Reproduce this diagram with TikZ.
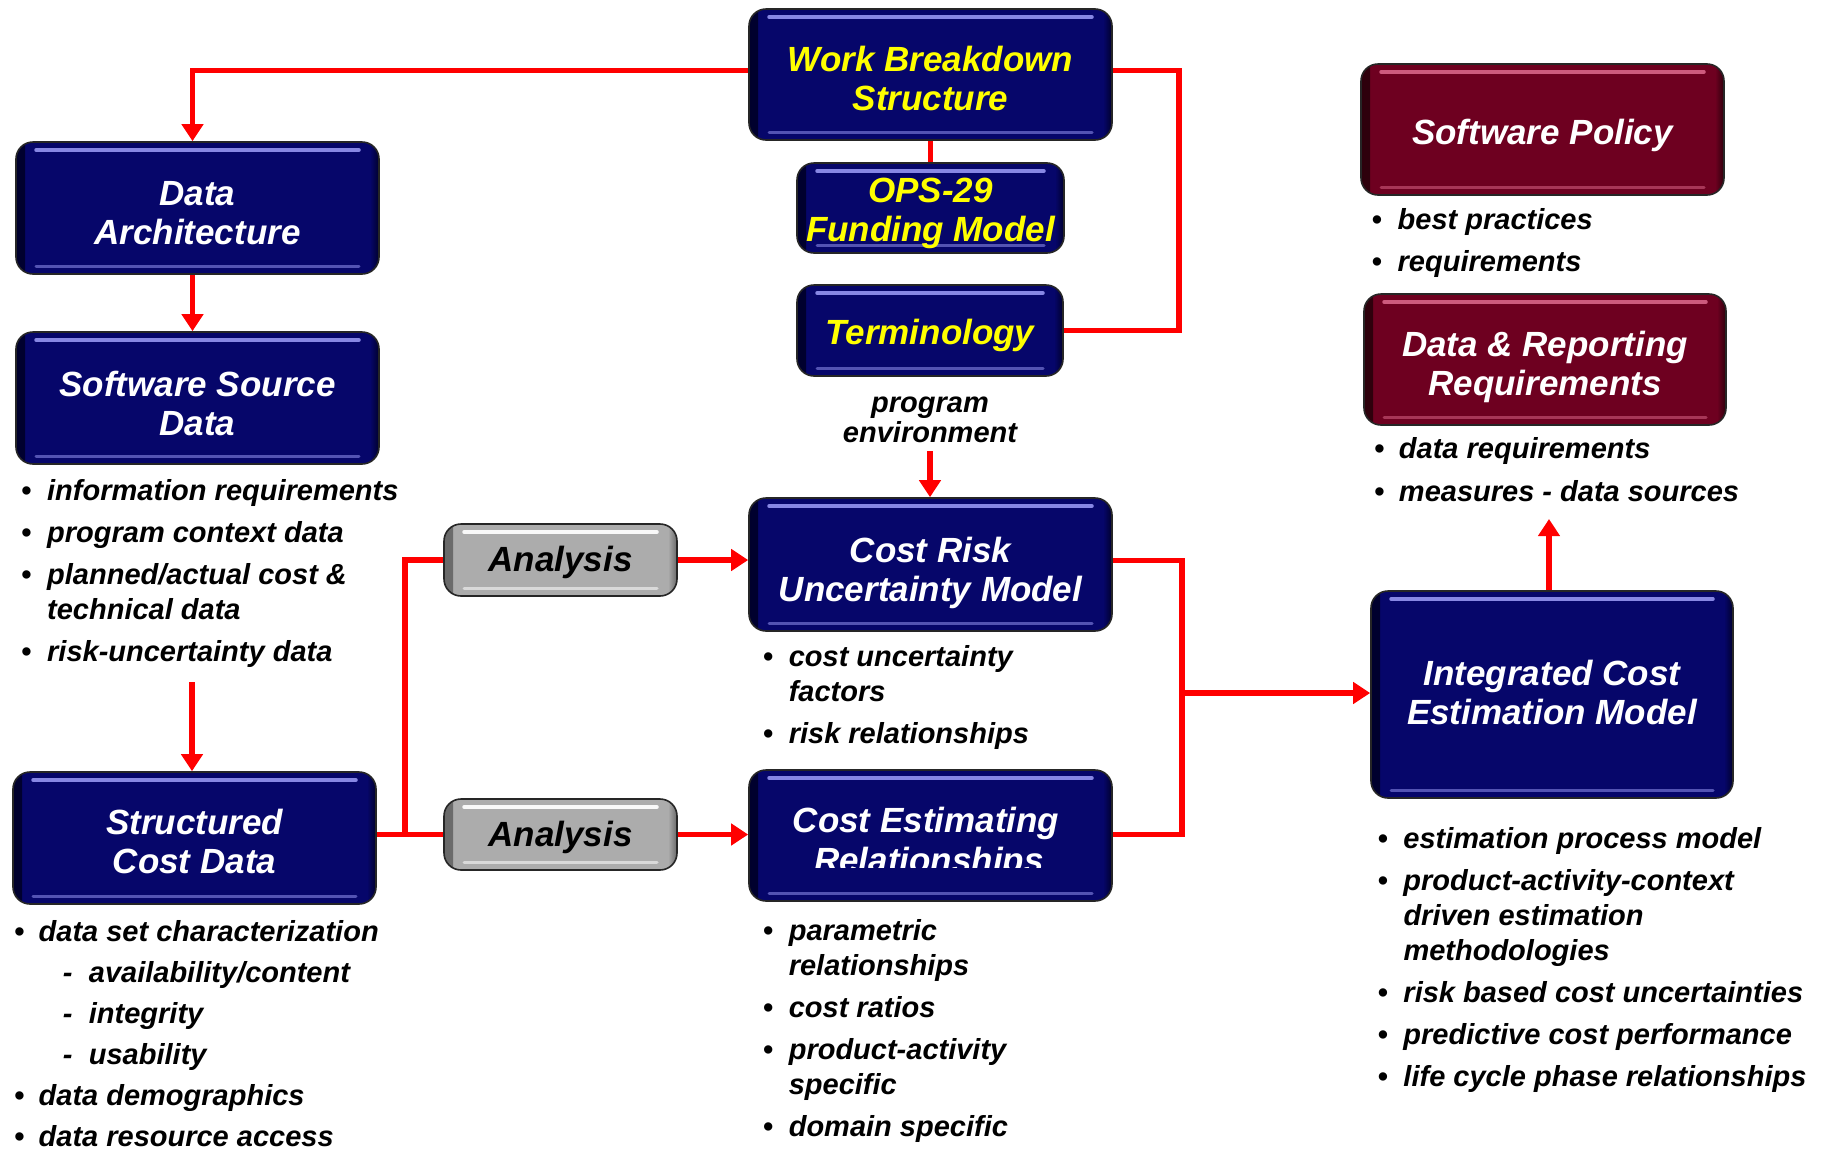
\documentclass[tikz,border=0pt]{standalone}
\usepackage{fontspec}
\setmainfont{Liberation Sans}
\usetikzlibrary{arrows.meta}
\definecolor{navyc}{RGB}{6,6,106}
\definecolor{navydark}{RGB}{0,0,45}
\definecolor{navyhl}{RGB}{135,135,228}
\definecolor{wine}{RGB}{110,0,32}
\definecolor{winedark}{RGB}{45,0,12}
\definecolor{winehl}{RGB}{205,90,125}
\definecolor{grayc}{RGB}{172,172,172}
\definecolor{graydark}{RGB}{105,105,105}
\definecolor{grayhl}{RGB}{248,248,248}
\definecolor{linered}{RGB}{255,0,0}
\definecolor{ylw}{RGB}{255,255,0}
\newcommand{\boxfont}{\fontsize{35}{39}\selectfont\bfseries\itshape}
\newcommand{\listfont}{\fontsize{29}{35}\selectfont\bfseries\itshape}
\newcommand{\bul}[1][26pt]{\makebox[#1][l]{•}}
\newcommand{\cont}[1][26pt]{\hspace*{#1}}
% lower a line of box text without changing the node's size
\newcommand{\dn}[2]{\raisebox{-#1}[\height][\depth]{#2}}
\tikzset{
  glossy/.style n args={3}{
    rounded corners=17pt, draw=black!85, line width=1.6pt, fill=#1,
    inner sep=0pt, align=center, font=\boxfont,
    path picture={
      \shade[sharp corners, left color=#2, right color=#1]
        (path picture bounding box.north west) rectangle ([xshift=9pt]path picture bounding box.south west);
      \shade[sharp corners, left color=#1, right color=#2]
        ([xshift=-9pt]path picture bounding box.north east) rectangle (path picture bounding box.south east);
      \draw[#3, line width=3.5pt, line cap=round]
        ([xshift=20pt,yshift=-8pt]path picture bounding box.north west) -- ([xshift=-20pt,yshift=-8pt]path picture bounding box.north east);
      \draw[#3, line width=3pt, line cap=round, opacity=0.6]
        ([xshift=20pt,yshift=8pt]path picture bounding box.south west) -- ([xshift=-20pt,yshift=8pt]path picture bounding box.south east);
    }},
  navybox/.style={glossy={navyc}{navydark}{navyhl}, text=white},
  ylwbox/.style={glossy={navyc}{navydark}{navyhl}, text=ylw},
  winebox/.style={glossy={wine}{winedark}{winehl}, text=white},
  graybox/.style={glossy={grayc}{graydark}{grayhl}, text=black},
  boxtext/.style={font=\boxfont, text=white, inner sep=0pt, anchor=base},
  listnode/.style={font=\listfont, inner sep=0pt, anchor=base west},
  conn/.style={draw=linered, line width=5.5pt},
  arr/.style={conn, -{Triangle[width=21pt,length=17pt]}}
}
\begin{document}
\begin{tikzpicture}[x=1pt, y=-1pt]
\fill[white] (0,0) rectangle (1829,1149);
\useasboundingbox (0,0) rectangle (1829,1149);

% boxes
\node[ylwbox, minimum width=363pt, minimum height=131pt] (wbs) at (930.5,74.5)
  {\dn{3.5pt}{Work Breakdown}\\\dn{3.5pt}{Structure}};
\node[ylwbox, minimum width=267pt, minimum height=90pt] (ops) at (930.5,208)
  {\dn{5pt}{OPS-29}\\\dn{5pt}{Funding Model}};
\node[ylwbox, minimum width=266pt, minimum height=91pt] (term) at (930,330.5)
  {\dn{5pt}{Terminology}};
\node[navybox, minimum width=363pt, minimum height=132pt] (darch) at (197.5,208)
  {\dn{5pt}{Data}\\\dn{5pt}{Architecture}};
\node[navybox, minimum width=363pt, minimum height=132pt] (ssd) at (197.5,398)
  {\dn{5pt}{Software Source}\\\dn{5pt}{Data}};
\node[navybox, minimum width=363pt, minimum height=132pt] (scd) at (194.5,838)
  {\dn{3.5pt}{Structured}\\\dn{3.5pt}{Cost Data}};
\node[graybox, minimum width=233pt, minimum height=72pt] (an1) at (560.5,560)
  {\dn{2.5pt}{Analysis}};
\node[graybox, minimum width=233pt, minimum height=71pt] (an2) at (560.5,834.5)
  {\dn{2.5pt}{Analysis}};
\node[navybox, minimum width=363pt, minimum height=133pt] (crum) at (930.5,564.5)
  {\dn{8pt}{Cost Risk}\\\dn{8pt}{Uncertainty Model}};
\node[navybox, minimum width=363pt, minimum height=131pt] (cer) at (930.5,835.5) {};
\node[boxtext] (certop) at (926,832) {Cost Estimating};
\begin{scope}
  \clip (749,760) rectangle (1112,867);
  \node[boxtext] (certxt) at (929,872) {Relationships};
\end{scope}
\node[navybox, minimum width=362pt, minimum height=207pt] (icem) at (1552,694.5)
  {\dn{-2pt}{Integrated Cost}\\\dn{-2pt}{Estimation Model}};
\node[winebox, minimum width=363pt, minimum height=131pt] (sp) at (1542.5,129.5)
  {\dn{6pt}{Software Policy}};
\node[winebox, minimum width=362pt, minimum height=131pt] (drr) at (1545,359.5)
  {\dn{7pt}{Data \& Reporting}\\\dn{7pt}{Requirements}};

% lists
\node[listnode] (ssdl) at (21,500) {\begin{tabular}[t]{@{}l@{}}
\bul information requirements\\[7pt]
\bul program context data\\[7pt]
\bul planned/actual cost \&\\
\cont technical data\\[7pt]
\bul risk-uncertainty data
\end{tabular}};
\node[listnode] (scdl) at (14,941) {\begin{tabular}[t]{@{}l@{}}
\bul[24.5pt]data set characterization\\[6pt]
\hspace*{48.7pt}\makebox[26pt][l]{-}availability/content\\[6pt]
\hspace*{48.7pt}\makebox[26pt][l]{-}integrity\\[6pt]
\hspace*{48.7pt}\makebox[26pt][l]{-}usability\\[6pt]
\bul[24.5pt]data demographics\\[6pt]
\bul[24.5pt]data resource access
\end{tabular}};
\node[listnode] (crl) at (762.6,666) {\begin{tabular}[t]{@{}l@{}}
\bul cost uncertainty\\
\cont factors\\[7pt]
\bul risk relationships
\end{tabular}};
\node[listnode] (cerl) at (762.6,940) {\begin{tabular}[t]{@{}l@{}}
\bul parametric\\
\cont relationships\\[7pt]
\bul cost ratios\\[7pt]
\bul product-activity\\
\cont specific\\[7pt]
\bul domain specific
\end{tabular}};
\node[listnode] (iceml) at (1377.3,848) {\begin{tabular}[t]{@{}l@{}}
\bul estimation process model\\[7pt]
\bul product-activity-context\\
\cont driven estimation\\
\cont methodologies\\[7pt]
\bul risk based cost uncertainties\\[7pt]
\bul predictive cost performance\\[7pt]
\bul life cycle phase relationships
\end{tabular}};
\node[listnode] (spl) at (1371.5,229) {\begin{tabular}[t]{@{}l@{}}
\bul best practices\\[7pt]
\bul requirements
\end{tabular}};
\node[listnode] (drrl) at (1373.8,458) {\begin{tabular}[t]{@{}l@{}}
\bul[25pt]data requirements\\[8pt]
\bul[25pt]measures - data sources
\end{tabular}};
\node[font=\fontsize{29}{30}\selectfont\bfseries\itshape, inner sep=0pt, anchor=base] (penv) at (930,412)
  {\begin{tabular}[t]{@{}c@{}}program\\environment\end{tabular}};

% junctions
\coordinate (j1) at (405,834.5);
\coordinate (j2) at (1182,693);
\coordinate (j3) at (1179,330.5);
\coordinate (ssdend) at (192,682);
\coordinate (drrtip) at (1549,519);

% connectors
\draw[arr] ([yshift=4pt]wbs.west) -| ([xshift=-5pt]darch.north);
\draw[arr] ([xshift=-5pt]darch.south) -- ([xshift=-5pt]ssd.north);
\draw[arr] (ssdend) -- (ssdend |- scd.north);
\draw[conn] (wbs.south) -- (ops.north);
\draw[conn] ([yshift=4pt]wbs.east) -| (j3) -- (term.east);
\draw[arr] (penv.south) -- (penv.south |- crum.north);
\draw[conn] (scd.east |- an2.west) -- (an2.west);
\draw[conn] (j1) |- (an1.west);
\draw[arr] (an1.east) -- (crum.west |- an1.east);
\draw[arr] (an2.east) -- (cer.west |- an2.east);
\draw[conn] ([yshift=4pt]crum.east) -| (j2);
\draw[conn] (cer.east |- an2.east) -| (j2);
\draw[arr] (j2) -- (icem.west |- j2);
\draw[arr] ([xshift=-3pt]icem.north) -- (drrtip);
\end{tikzpicture}
\end{document}
